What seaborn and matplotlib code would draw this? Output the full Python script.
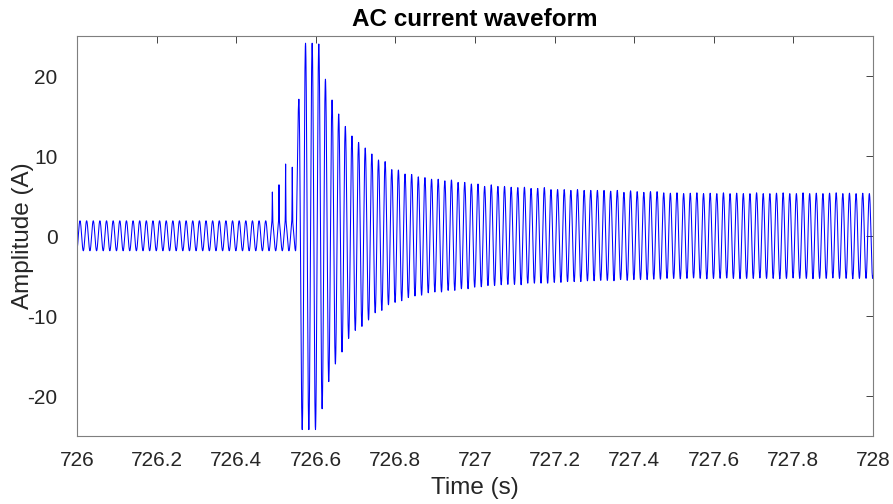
import numpy as np
import pandas as pd
import matplotlib
matplotlib.use("Agg")
import matplotlib.pyplot as plt
import seaborn as sns

# ---------------- data ----------------
t_start = 726.0          # s
f_line = 60.0            # Hz (120 cycles in 2 s)
first_peak = 0.0075      # s after t_start of the first positive crest

# positive crest of each cycle (A), cycles 0..119
pos_peaks = ([1.9] * 33 +
             [17.1, 24.1, 24.1, 24.0, 19.6, 17.0, 15.25, 13.7, 12.5, 11.7,
              11.0, 10.25, 9.5, 9.3, 8.3, 8.25, 7.75, 7.7, 7.4, 7.3,
              7.1, 7.1, 6.9, 7.0, 6.7, 6.7, 6.5, 6.5] +
             [6.2, 6.4, 6.2, 6.2, 6.1, 6.05, 6.1, 5.95, 5.95, 6.05,
              5.8, 5.8, 5.8, 5.7, 5.8, 5.7, 5.7, 5.7, 5.7, 5.6,
              5.7, 5.45, 5.65, 5.55, 5.45, 5.55, 5.55, 5.4] +
             [5.35, 5.4, 5.3, 5.35, 5.4, 5.3, 5.35, 5.3, 5.4, 5.3,
              5.35, 5.3, 5.3, 5.4, 5.3, 5.3, 5.35, 5.4, 5.3, 5.3,
              5.4, 5.3, 5.35, 5.3, 5.35, 5.4, 5.3, 5.35, 5.3, 5.35, 5.3])

# negative trough of each cycle (A), cycles 0..119
neg_troughs = ([-1.85] * 33 +
               [-24.2, -24.2, -24.2, -21.6, -18.2, -16.0, -14.5, -12.8, -11.8, -11.3,
                -10.5, -9.6, -9.3, -8.6, -8.3, -8.1, -7.7, -7.5, -7.4, -7.1,
                -7.0, -7.0, -6.8, -6.8, -6.6, -6.6, -6.4] +
               [-6.35, -6.2, -6.2, -6.1, -6.05, -6.05, -6.1, -5.9, -5.9, -5.9,
                -5.9, -5.8, -5.8, -5.7, -5.7, -5.7, -5.6, -5.6, -5.55, -5.55,
                -5.6, -5.45, -5.55, -5.45, -5.45, -5.45, -5.4, -5.4, -5.3] +
               [-5.3, -5.35, -5.3, -5.25, -5.3, -5.35, -5.3, -5.3, -5.25, -5.3,
                -5.35, -5.3, -5.3, -5.25, -5.3, -5.3, -5.35, -5.3, -5.25, -5.3,
                -5.3, -5.35, -5.3, -5.3, -5.25, -5.3, -5.3, -5.35, -5.3, -5.3, -5.3])

# narrow pre-fault spikes riding on the crests
spike_cycles = [29, 30, 31, 32]
spike_peaks = [5.5, 6.4, 9.0, 8.6]

x_ticks = [726.0, 726.2, 726.4, 726.6, 726.8, 727.0, 727.2, 727.4, 727.6, 727.8, 728.0]
x_ticklabels = ["726", "726.2", "726.4", "726.6", "726.8", "727",
                "727.2", "727.4", "727.6", "727.8", "728"]
y_ticks = [-20, -10, 0, 10, 20]
y_ticklabels = ["-20", "-10", "0", "10", "20"]

# ---------------- build the sampled waveform ----------------
period = 1.0 / f_line
n_cyc = len(pos_peaks)
ext_t, ext_v = [first_peak - period / 2], [neg_troughs[0]]
for n in range(n_cyc):
    tp = first_peak + n * period
    ext_t += [tp, tp + period / 2]
    ext_v += [pos_peaks[n], neg_troughs[n]]
ext_t.append(first_peak + n_cyc * period)
ext_v.append(pos_peaks[-1])
ext_t = np.array(ext_t)
ext_v = np.array(ext_v)

fs = 12000
t_rel = np.arange(0, 2.0 + 1 / fs, 1 / fs)
idx = np.clip(np.searchsorted(ext_t, t_rel, side="right") - 1, 0, len(ext_t) - 2)
t0, t1 = ext_t[idx], ext_t[idx + 1]
a, b = ext_v[idx], ext_v[idx + 1]
phase = (t_rel - t0) / (t1 - t0)
current = (a + b) / 2 + (a - b) / 2 * np.cos(np.pi * phase)
for c, sp in zip(spike_cycles, spike_peaks):
    tc = first_peak + c * period
    current += (sp - pos_peaks[c]) * np.exp(-((t_rel - tc) / 0.0006) ** 2)

df = pd.DataFrame({"Time (s)": t_start + t_rel, "Amplitude (A)": current})

# ---------------- plot ----------------
sns.set_style("white")
plt.rcParams["font.family"] = ["Liberation Sans", "DejaVu Sans"]
axcol = "#262626"

fig = plt.figure(figsize=(8.93, 5.04), dpi=100)
ax = fig.add_axes([77 / 893, 1 - 436 / 504, 796 / 893, 400 / 504])
sns.lineplot(data=df, x="Time (s)", y="Amplitude (A)", color="#0000ff",
             linewidth=0.75, estimator=None, sort=False, ax=ax)

ax.set_xlim(726, 728)
ax.set_ylim(-25, 25)
ax.set_xticks(x_ticks)
ax.set_xticklabels(x_ticklabels)
ax.set_yticks(y_ticks)
ax.set_yticklabels(y_ticklabels)
ax.tick_params(direction="in", length=5, width=0.6, colors=axcol,
               labelsize=15, top=True, right=True)
ax.tick_params(axis="x", pad=10.5)
ax.tick_params(axis="y", pad=14)
for s in ax.spines.values():
    s.set_color("#7f7f7f")
    s.set_linewidth(0.8)
ax.set_xlabel("Time (s)", fontsize=17.5, color=axcol, labelpad=5)
ax.set_ylabel("Amplitude (A)", fontsize=17.5, color=axcol, labelpad=-5)
ax.set_title("AC current waveform", fontsize=17.5, fontweight="bold",
             color="black", pad=7)

fig.savefig("out.png", dpi=100)
